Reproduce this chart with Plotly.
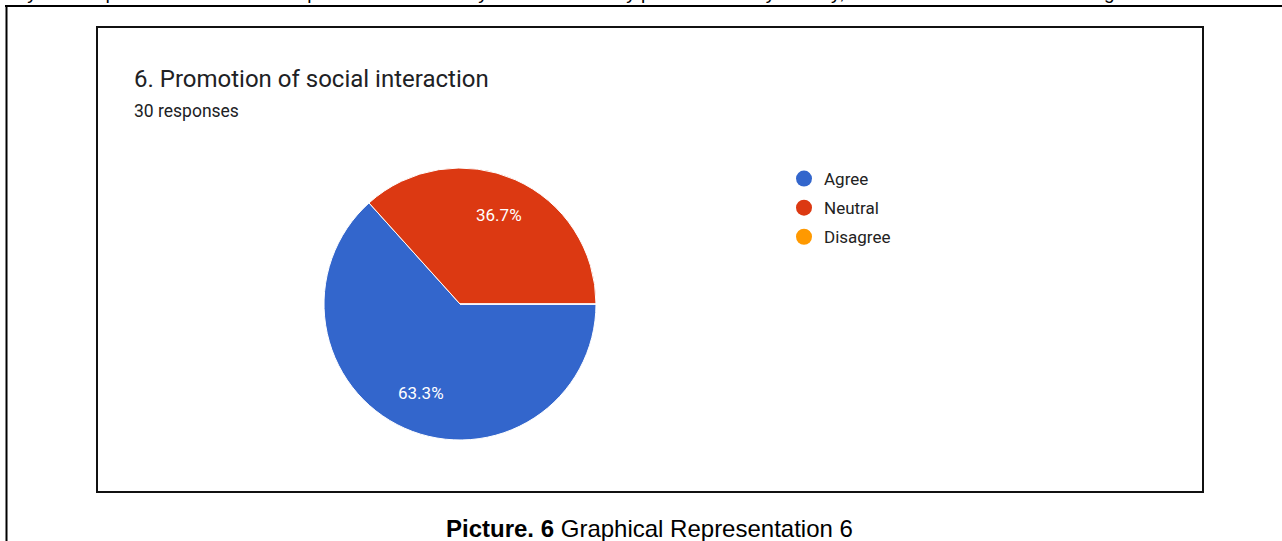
import math
import plotly.graph_objects as go

W, H = 1282, 541

# ---- data ----
categories = ["Agree", "Neutral", "Disagree"]
responses = [19, 11, 0]
colors = ["#3366CC", "#DC3912", "#FF9900"]
title_text = "6. Promotion of social interaction"
subtitle_text = "30 responses"
caption_bold = "Picture. 6"
caption_rest = " Graphical Representation 6"
top_text = ("only sent a questionnaire to the samples of the secondary data collected by personal survey directly, "
            "The result of the students disagreed more on the")


def px(x):
    return x / W


def py(y):
    return 1 - y / H


# pie geometry (pixels)
CX, CY, R = 460, 304, 136
START_BEARING = 90  # first slice starts at 3 o'clock, clockwise
LABEL_FRAC = 0.713

fig = go.Figure()

fig.add_trace(go.Pie(
    labels=categories,
    values=responses,
    marker=dict(colors=colors, line=dict(color="white", width=1)),
    sort=False,
    direction="clockwise",
    rotation=START_BEARING,
    textinfo="none",
    domain=dict(x=[px(CX - R), px(CX + R)], y=[py(CY + R), py(CY - R)]),
    showlegend=False,
    hoverinfo="label+percent",
))

for cat, col in zip(categories, colors):
    fig.add_trace(go.Scatter(
        x=[None], y=[None], mode="markers", name=cat, legendgroup=cat,
        marker=dict(symbol="circle", size=16, color=col),
        showlegend=True,
    ))

fig.update_xaxes(visible=False)
fig.update_yaxes(visible=False)

shapes = [
    # page rule lines
    dict(type="line", xref="paper", yref="paper", x0=px(5), x1=px(W + 5), y0=py(6), y1=py(6),
         line=dict(color="black", width=2)),
    dict(type="line", xref="paper", yref="paper", x0=px(6.5), x1=px(6.5), y0=py(6), y1=py(H + 5),
         line=dict(color="black", width=2)),
    # chart frame
    dict(type="rect", xref="paper", yref="paper", x0=px(97), x1=px(1203), y0=py(492), y1=py(27),
         line=dict(color="#111111", width=2), fillcolor="rgba(0,0,0,0)"),
]

annotations = [
    dict(text=top_text, xref="paper", yref="paper", x=px(0), y=py(5), xanchor="left", yanchor="bottom",
         showarrow=False, font=dict(family="Liberation Sans, Arial", size=19, color="black")),
    dict(text=title_text, xref="paper", yref="paper", x=px(132), y=py(79), xanchor="left", yanchor="middle",
         showarrow=False, font=dict(family="Roboto, Arial, sans-serif", size=24, color="#202124")),
    dict(text=subtitle_text, xref="paper", yref="paper", x=px(132), y=py(111), xanchor="left", yanchor="middle",
         showarrow=False, font=dict(family="Roboto, Arial, sans-serif", size=17.5, color="#202124")),
    dict(text="<b>" + caption_bold + "</b>" + caption_rest, xref="paper", yref="paper", x=px(649.5), y=py(528),
         xanchor="center", yanchor="middle", showarrow=False,
         font=dict(family="Liberation Sans Narrow, Arial Narrow, Liberation Sans, Arial", size=24, color="black")),
]

# slice percentage labels, placed at the mid-angle of each slice (computed from the data)
total = sum(responses)
cum = 0
for val in responses:
    if val > 0:
        mid_bearing = START_BEARING + 360 * (cum + val / 2) / total
        theta = math.radians(mid_bearing)
        lx = CX + LABEL_FRAC * R * math.sin(theta)
        ly = CY - LABEL_FRAC * R * math.cos(theta)
        annotations.append(dict(
            text=f"{val / total:.1%}", xref="paper", yref="paper", x=px(lx), y=py(ly),
            xanchor="center", yanchor="middle", showarrow=False,
            font=dict(family="Roboto, Arial, sans-serif", size=17, color="white")))
    cum += val

fig.update_layout(
    width=W, height=H,
    margin=dict(l=0, r=0, t=0, b=0),
    paper_bgcolor="white", plot_bgcolor="white",
    shapes=shapes,
    annotations=annotations,
    legend=dict(x=px(784), y=py(161), xanchor="left", yanchor="top",
                font=dict(family="Roboto, Arial, sans-serif", size=17, color="#222222"),
                bgcolor="rgba(0,0,0,0)", tracegroupgap=4, itemsizing="trace"),
)

fig.write_html("out.html", config={"displayModeBar": False},
               post_script="document.body.style.margin='0';document.body.style.overflow='hidden';")
